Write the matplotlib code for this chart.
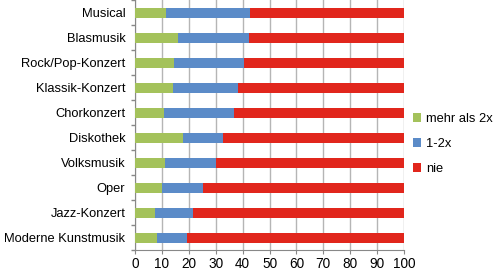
import matplotlib
matplotlib.use("Agg")
import matplotlib.pyplot as plt
import numpy as np

plt.rcParams['font.family'] = ['Liberation Sans', 'DejaVu Sans']

categories = ["Musical", "Blasmusik", "Rock/Pop-Konzert", "Klassik-Konzert", "Chorkonzert",
              "Diskothek", "Volksmusik", "Oper", "Jazz-Konzert", "Moderne Kunstmusik"]
mehr_als_2x = [11.5, 15.9, 14.5, 14.1, 10.7, 17.7, 11.2, 10.0, 7.3, 8.1]
eins_zwei_x = [31.3, 26.4, 25.9, 24.1, 26.1, 15.1, 18.8, 15.4, 14.4, 11.3]
nie = [100 - a - b for a, b in zip(mehr_als_2x, eins_zwei_x)]
series_names = ["mehr als 2x", "1-2x", "nie"]
colors = ["#A4C25B", "#5B8BC8", "#E1261C"]

fs = 9.3

fig = plt.figure(figsize=(4.97, 2.70), dpi=100)
ax = fig.add_axes([135/497, 1 - 250/270, 269/497, 250/270])

y = np.arange(len(categories))
left = np.zeros(len(categories))
handles = []
for vals, name, col in zip([mehr_als_2x, eins_zwei_x, nie], series_names, colors):
    h = ax.barh(y, vals, left=left, height=0.4, color=col, label=name, zorder=3)
    handles.append(h)
    left += np.array(vals)

ax.set_ylim(len(categories) - 0.5, -0.5)
ax.set_xlim(0, 100)
ax.set_xticks(np.arange(0, 101, 10))
ax.set_yticks(y)
ax.set_yticklabels(categories, fontsize=fs)
ax.set_yticks(np.arange(-0.5, len(categories), 1), minor=True)
ax.tick_params(axis='y', which='major', length=0, pad=7)
ax.tick_params(axis='y', which='minor', length=3, color='#888888', width=1)
ax.tick_params(axis='x', labelsize=fs + 0.5, length=3, color='#888888', pad=2)
ax.grid(axis='x', color='#b5b5b5', linewidth=1, zorder=0)
for s in ['top', 'right']:
    ax.spines[s].set_visible(False)
ax.spines['left'].set_color('#888888')
ax.spines['bottom'].set_color('#888888')

fig.legend(handles=handles, labels=series_names, loc='upper left',
           bbox_to_anchor=(413/497, 1 - 113/270), frameon=False, fontsize=fs,
           handlelength=0.65, handleheight=0.65, handletextpad=0.35, labelspacing=1.0,
           borderaxespad=0, borderpad=0)

fig.savefig("out.png", dpi=100)
